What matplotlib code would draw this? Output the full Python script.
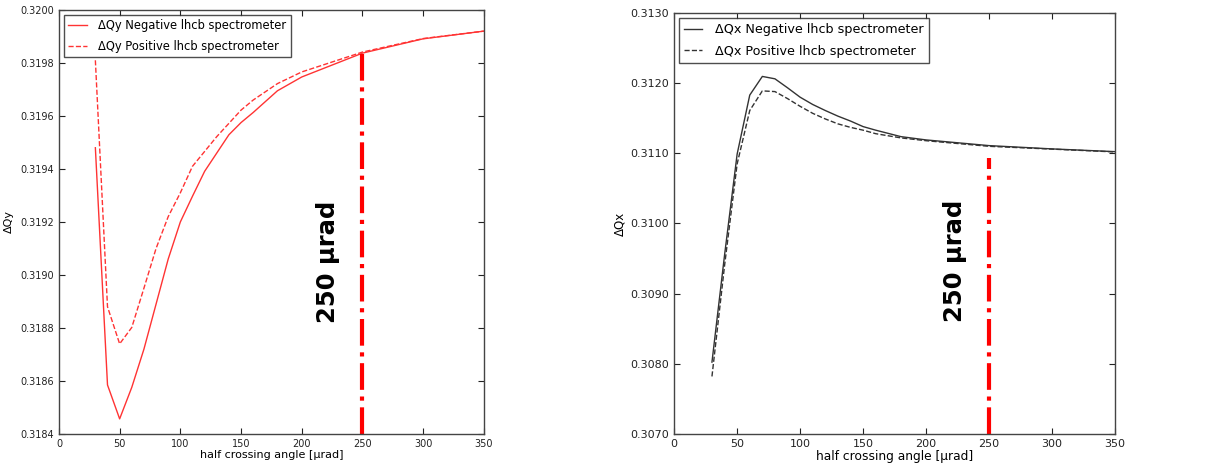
import numpy as np
import matplotlib.pyplot as plt

# half crossing angle [urad]
angle = [30, 40, 50, 60, 70, 80, 90, 100, 110, 120, 130, 140, 150, 160, 180, 200, 250, 300, 350]

# vertical tune shift (left panel)
qy_neg = [0.31948, 0.318585, 0.318457, 0.318576, 0.31872, 0.31889, 0.31906, 0.31920, 0.319297,
          0.319391, 0.31946, 0.319529, 0.319575, 0.319613, 0.319695, 0.319747, 0.319837, 0.319891, 0.31992]
qy_pos = [0.31981, 0.31888, 0.31874, 0.318802, 0.31895, 0.31910, 0.31922, 0.31931, 0.31941,
          0.319466, 0.319522, 0.319572, 0.319622, 0.31966, 0.319722, 0.319766, 0.319841, 0.319892, 0.31992]

# horizontal tune shift (right panel)
qx_neg = [0.308024, 0.30955, 0.31099, 0.31183, 0.312096, 0.312062, 0.311934, 0.3118, 0.311696,
          0.31161, 0.31153, 0.31146, 0.311381, 0.31133, 0.311238, 0.311191, 0.31111, 0.311063, 0.311024]
qx_pos = [0.30782, 0.30940, 0.31085, 0.31161, 0.31189, 0.31188, 0.31178, 0.31167, 0.31157,
          0.31149, 0.31142, 0.31137, 0.31133, 0.31128, 0.31122, 0.31118, 0.31110, 0.31106, 0.31102]

marker_x = 250

fig = plt.figure(figsize=(12.28, 4.73), dpi=100)
ax1 = fig.add_axes([0.048, 0.0825, 0.346, 0.8965])
ax2 = fig.add_axes([0.549, 0.0825, 0.359, 0.89])

def style(ax, fs):
    ax.tick_params(direction='in', top=True, right=True, labelsize=fs, colors='#222222', length=4)
    for s in ax.spines.values():
        s.set_color('#444444')
        s.set_linewidth(1.0)
    ax.set_xlim(0, 350)
    ax.set_xticks(np.arange(0, 351, 50))

# left panel
ax1.plot(angle, qy_neg, color='#ff3333', lw=1, label='ΔQy Negative lhcb spectrometer')
ax1.plot(angle, qy_pos, color='#ff3333', lw=1, ls='--', label='ΔQy Positive lhcb spectrometer')
ax1.plot([marker_x, marker_x], [0.3184, qy_neg[angle.index(marker_x)]], color='red', lw=3, ls='-.')
ax1.set_ylim(0.3184, 0.3200)
ax1.set_yticks(np.arange(0.3184, 0.32001, 0.0002))
ax1.yaxis.set_major_formatter(plt.FormatStrFormatter('%.4f'))
style(ax1, 7)
ax1.set_xlabel('half crossing angle [μrad]', fontsize=8, labelpad=1)
ax1.set_ylabel('ΔQy', fontsize=8)
ax1.yaxis.set_label_coords(-0.105, 0.5)
ax1.text(222, 0.31905, '250 μrad', rotation=90, fontsize=17.5, fontweight='bold',
         ha='center', va='center')
ax1.legend(loc='upper left', fontsize=8.3, frameon=True, fancybox=False,
           edgecolor='#222222', handlelength=1.6, handletextpad=1.0,
           labelspacing=0.65, borderaxespad=0.4)

# right panel
ax2.plot(angle, qx_neg, color='#333333', lw=1, label='ΔQx Negative lhcb spectrometer')
ax2.plot(angle, qx_pos, color='#333333', lw=1, ls='--', label='ΔQx Positive lhcb spectrometer')
ax2.plot([marker_x, marker_x], [0.3070, 0.31093], color='red', lw=3, ls='-.')
ax2.set_ylim(0.3070, 0.3130)
ax2.set_yticks(np.arange(0.3070, 0.31301, 0.0010))
ax2.yaxis.set_major_formatter(plt.FormatStrFormatter('%.4f'))
style(ax2, 8)
ax2.set_xlabel('half crossing angle [μrad]', fontsize=8.8, labelpad=1)
ax2.set_ylabel('ΔQx', fontsize=8.5)
ax2.yaxis.set_label_coords(-0.109, 0.5)
ax2.text(223, 0.30947, '250 μrad', rotation=90, fontsize=17.5, fontweight='bold',
         ha='center', va='center')
ax2.legend(loc='upper left', fontsize=9.2, frameon=True, fancybox=False,
           edgecolor='#222222', handlelength=1.4, handletextpad=1.0,
           labelspacing=0.65, borderaxespad=0.4)

fig.savefig('out.png', dpi=100)
